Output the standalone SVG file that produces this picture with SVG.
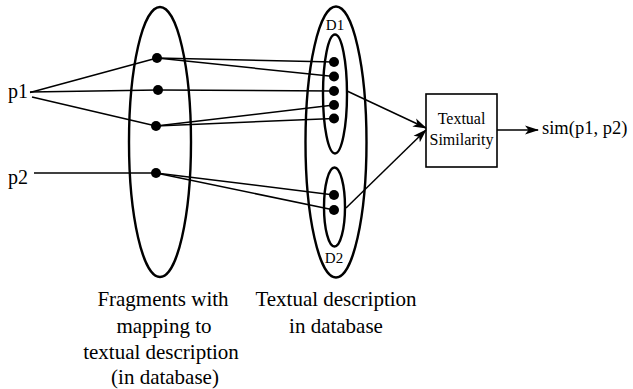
<svg xmlns="http://www.w3.org/2000/svg" width="633" height="389" viewBox="0 0 633 389">
  <style>
    .set { fill: none; stroke: #000; stroke-width: 2.4; }
    .dot { fill: #000; }
    .edge { fill: none; stroke: #000; stroke-width: 1.5; }
    .box { fill: #fff; stroke: #000; stroke-width: 1.6; }
    .lbl { font-family: 'Liberation Serif', serif; font-size: 20px; fill: #000; }
    .cap { font-family: 'Liberation Serif', serif; font-size: 21px; text-anchor: middle; fill: #000; }
    .doc { font-family: 'Liberation Serif', serif; font-size: 15px; text-anchor: middle; fill: #000; }
    .inbox { font-family: 'Liberation Serif', serif; font-size: 16px; text-anchor: middle; fill: #000; }
    .out { font-family: 'Liberation Serif', serif; font-size: 18.5px; fill: #000; }
  </style>
  <defs>
    <marker id="arrow" viewBox="0 0 14 10" refX="13" refY="5" markerWidth="14" markerHeight="10" markerUnits="userSpaceOnUse" orient="auto">
      <path d="M0,0.5 L14,5 L0,9.5 L3.5,5 Z" fill="#000"/>
    </marker>
  </defs>

  <!-- inputs -->
  <g id="p1"><text class="lbl" x="8" y="98">p1</text></g>
  <g id="p2"><text class="lbl" x="8" y="184">p2</text></g>

  <!-- fragment set -->
  <g id="fragments">
    <ellipse class="set" cx="160" cy="142" rx="31" ry="135"/>
    <circle class="dot" cx="157" cy="58" r="5"/>
    <circle class="dot" cx="158" cy="90" r="5"/>
    <circle class="dot" cx="156" cy="126" r="5"/>
    <circle class="dot" cx="156" cy="173" r="5"/>
  </g>

  <!-- textual description database -->
  <g id="database">
    <ellipse class="set" cx="336" cy="142" rx="30.5" ry="135.5"/>
  </g>
  <g id="d1">
    <ellipse class="set" cx="335" cy="94" rx="12" ry="59.5"/>
    <text class="doc" x="335" y="30">D1</text>
    <circle class="dot" cx="334" cy="62" r="5"/>
    <circle class="dot" cx="334" cy="76.5" r="5"/>
    <circle class="dot" cx="334" cy="91" r="5"/>
    <circle class="dot" cx="334" cy="105" r="5"/>
    <circle class="dot" cx="334" cy="118.5" r="5"/>
  </g>
  <g id="d2">
    <ellipse class="set" cx="334.5" cy="207" rx="10.5" ry="39.5"/>
    <text class="doc" x="334" y="263">D2</text>
    <circle class="dot" cx="334" cy="195" r="5"/>
    <circle class="dot" cx="334" cy="210" r="5"/>
  </g>

  <!-- similarity box -->
  <g id="similarity">
    <rect class="box" x="426" y="94" width="71" height="73"/>
    <text class="inbox" x="461.5" y="124">Textual</text>
    <text class="inbox" x="461.5" y="145">Similarity</text>
  </g>

  <g id="result"><text class="out" x="542" y="134">sim(p1, p2)</text></g>

  <!-- captions -->
  <g id="caption-fragments">
    <text class="cap" x="163" y="306">Fragments with</text>
    <text class="cap" x="164" y="333">mapping to</text>
    <text class="cap" x="161" y="359">textual description</text>
    <text class="cap" x="165" y="384">(in database)</text>
  </g>
  <g id="caption-database">
    <text class="cap" x="336" y="306">Textual description</text>
    <text class="cap" x="336" y="333">in database</text>
  </g>

  <!-- connectors -->
  <g id="connectors">
    <line class="edge" x1="30" y1="92.5" x2="157" y2="58"/>
    <line class="edge" x1="30" y1="92" x2="158" y2="90"/>
    <line class="edge" x1="32" y1="97" x2="156" y2="126"/>
    <line class="edge" x1="34" y1="173" x2="156" y2="173"/>

    <line class="edge" x1="157" y1="58" x2="334" y2="62"/>
    <line class="edge" x1="157" y1="58" x2="334" y2="76.5"/>
    <line class="edge" x1="158" y1="90" x2="334" y2="91"/>
    <line class="edge" x1="156" y1="126" x2="334" y2="105"/>
    <line class="edge" x1="156" y1="126" x2="334" y2="118.5"/>
    <line class="edge" x1="156" y1="173" x2="334" y2="195"/>
    <line class="edge" x1="156" y1="173" x2="334" y2="210"/>

    <line class="edge" x1="347" y1="91" x2="426" y2="128" marker-end="url(#arrow)"/>
    <line class="edge" x1="346" y1="208" x2="426" y2="130" marker-end="url(#arrow)"/>
    <line class="edge" x1="497" y1="130" x2="538" y2="130" marker-end="url(#arrow)"/>
  </g>
</svg>
